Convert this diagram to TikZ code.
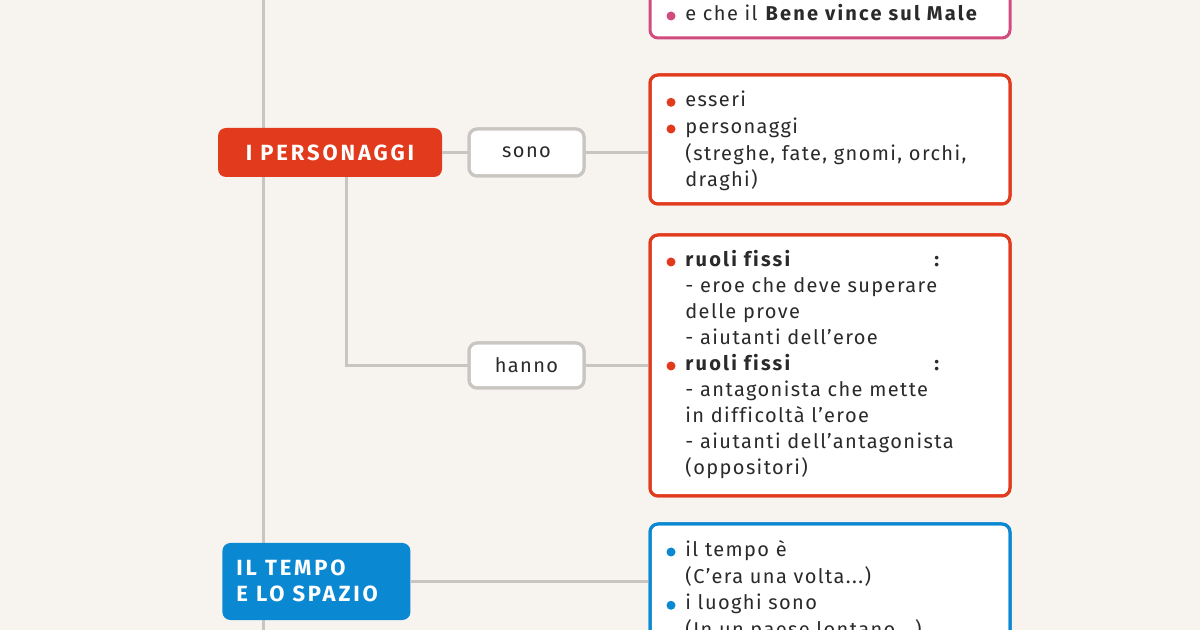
\documentclass[tikz,border=0pt]{standalone}
\usepackage{fontspec}
\setmainfont{Fira Sans}[LetterSpace=7, Ligatures=NoCommon, BoldFeatures={LetterSpace=11}]
\newfontfamily\headfont{Fira Sans}[LetterSpace=13]
\definecolor{bg}{HTML}{F7F4EF}
\definecolor{conn}{HTML}{C9C6C2}
\definecolor{pinkc}{HTML}{D24B7E}
\definecolor{redc}{HTML}{E23A1C}
\definecolor{bluec}{HTML}{0A88D2}
\definecolor{txt}{HTML}{2A2A2A}
\tikzset{
  conn/.style={draw=conn, line width=1.5pt},
  infobox/.style={draw=#1, fill=white, line width=1.5pt, rounded corners=4pt, inner sep=0pt},
  head/.style={fill=#1, text=white, rounded corners=4pt, inner sep=0pt, font=\headfont\fontsize{11}{13.5}\selectfont\bfseries},
  verb/.style={draw=conn, fill=white, line width=1.5pt, rounded corners=4pt, inner sep=0pt, minimum width=57.5pt, text=txt, font=\fontsize{10}{12}\selectfont},
  line/.style={anchor=base west, inner sep=0pt, text=txt, font=\fontsize{10}{12}\selectfont},
  dot/.style={circle, fill=#1, inner sep=0pt, minimum size=4.5pt},
}
\begin{document}
\begin{tikzpicture}[x=0.5pt,y=-0.5pt]
\useasboundingbox (0,0) rectangle (1200,630);
\clip (0,0) rectangle (1200,630);
\fill[bg] (0,0) rectangle (1200,630);

% connectors (drawn first, under the boxes)
\coordinate (vt) at (263,-10);
\coordinate (vb) at (263,640);
\draw[conn] (vt) -- (vb);

% boxes
\node[infobox=pinkc, minimum width=180pt, minimum height=69pt] (boxA) at (830,-31) {};
\node[infobox=redc, minimum width=180pt, minimum height=64.5pt] (boxB) at (830,139.5) {};
\node[infobox=redc, minimum width=180pt, minimum height=130.5pt] (boxC) at (830,365.5) {};
\node[infobox=bluec, minimum width=180pt, minimum height=88pt] (boxD) at (830,612) {};

\node[head=redc, minimum width=112pt, minimum height=24.5pt] (pers) at (330,152.5) {I PERSONAGGI};
\node[head=bluec, minimum width=94pt, minimum height=38.5pt, anchor=west] (tempo) at (222,581.5) {};
\node[anchor=base west, inner sep=0pt, text=white, font=\headfont\fontsize{11}{13.5}\selectfont\bfseries] (tempo1) at (236,575) {IL TEMPO};
\node[anchor=base west, inner sep=0pt, text=white, font=\headfont\fontsize{11}{13.5}\selectfont\bfseries] (tempo2) at (236,602) {E LO SPAZIO};

\node[verb, minimum height=23.5pt] (sono) at (526.5,152.5) {sono};
\node[verb, minimum height=22.5pt] (hanno) at (526.5,365.5) {hanno};

% connectors between nodes
\draw[conn] (pers.east) -- (sono.west);
\draw[conn] (sono.east) -- (sono.east -| boxB.west);
\draw[conn] ([xshift=8pt]pers.south) |- (hanno.west);
\draw[conn] (hanno.east) -- (hanno.east -| boxC.west);
\draw[conn] (tempo.east) -- (tempo.east -| boxD.west);
% redraw borders over connector ends
\node[infobox=redc, minimum width=180pt, minimum height=64.5pt, fill=none] (boxBb) at (boxB) {};
\node[infobox=redc, minimum width=180pt, minimum height=130.5pt, fill=none] (boxCb) at (boxC) {};
\node[infobox=bluec, minimum width=180pt, minimum height=88pt, fill=none] (boxDb) at (boxD) {};
\node[verb, minimum height=23.5pt, fill=none] (sonob) at (sono) {};
\node[verb, minimum height=22.5pt, fill=none] (hannob) at (hanno) {};

% top box
\node[dot=pinkc] (dA1) at (671,16) {};
\node[line] (tA1) at (685,20.7) {e che il \textbf{Bene vince sul Male}};

% box B
\node[dot=redc] (dB1) at (671,102.3) {};
\node[line] (tB1) at (685,107) {esseri};
\node[dot=redc] (dB2) at (671,129) {};
\node[line] (tB2) at (685,133.7) {personaggi};
\node[line] (tB3) at (685,160.3) {(streghe, fate, gnomi, orchi,};
\node[line] (tB4) at (685,187) {draghi)};

% box C
\node[dot=redc] (dC1) at (671,262) {};
\node[line] (tC1) at (685,266.7) {\textbf{ruoli fissi}};
\node[line] (tC1b) at (934,266.7) {\textbf{:}};
\node[line] (tC2) at (685,292.7) {- eroe che deve superare};
\node[line] (tC3) at (685,318.7) {delle prove};
\node[line] (tC4) at (685,344.7) {- aiutanti dell’eroe};
\node[dot=redc] (dC5) at (671,366) {};
\node[line] (tC5) at (685,370.7) {\textbf{ruoli fissi}};
\node[line] (tC5b) at (934,370.7) {\textbf{:}};
\node[line] (tC6) at (685,396.7) {- antagonista che mette};
\node[line] (tC7) at (685,422.7) {in difficoltà l’eroe};
\node[line] (tC8) at (685,448.7) {- aiutanti dell’antagonista};
\node[line] (tC9) at (685,474.7) {(oppositori)};

% box D
\node[dot=bluec] (dD1) at (671,552) {};
\node[line] (tD1) at (685,556.7) {il tempo è};
\node[line] (tD2) at (685,583.3) {(C’era una volta...)};
\node[dot=bluec] (dD3) at (671,605.3) {};
\node[line] (tD3) at (685,610) {i luoghi sono};
\node[line] (tD4) at (685,636.5) {(In un paese lontano...)};
\end{tikzpicture}
\end{document}
